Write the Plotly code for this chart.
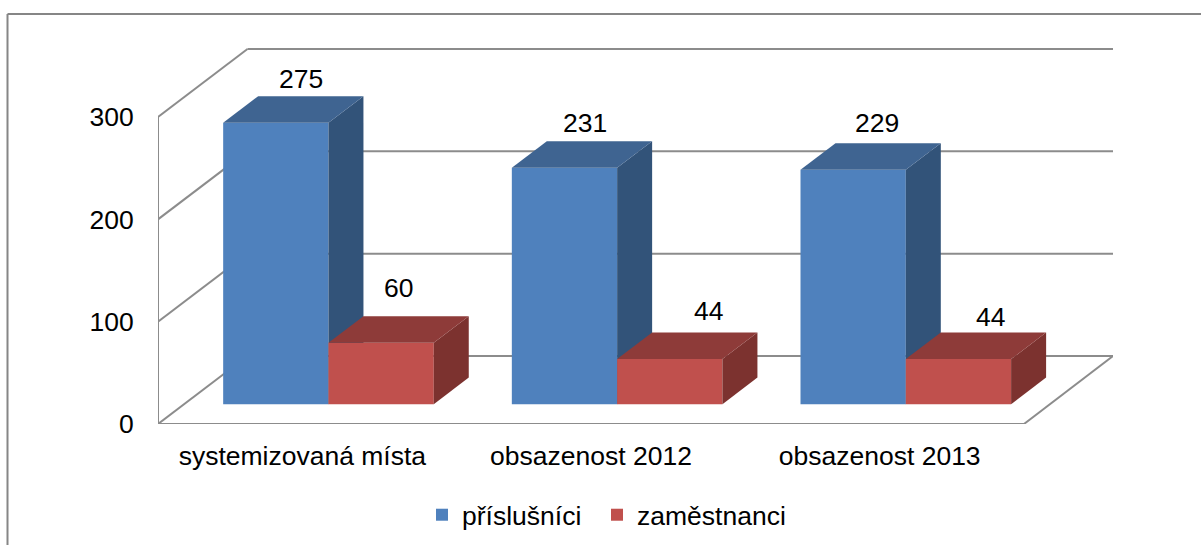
import plotly.graph_objects as go

categories = ["systemizovaná místa", "obsazenost 2012", "obsazenost 2013"]
prislusnici = [275, 231, 229]
zamestnanci = [60, 44, 44]
y_ticks = [0, 100, 200, 300]

BLUE, BLUE_TOP, BLUE_SIDE = "#4F81BD", "#3F6491", "#325379"
RED, RED_TOP, RED_SIDE = "#C0504D", "#8E3B39", "#7C322F"
GREY = "#8C8C8C"
FONT = "Liberation Sans, Arial, sans-serif"
FS = 26.5

# pixel geometry of the plot box
L, R, T, B = 158, 1113, 48, 424
W, H = 1201, 545
SLOT = 866 / 3            # px per category
PXY = 102.33 / 100        # px per value unit
XMIN = -0.5
XMAX = XMIN + (R - L) / SLOT
YMAX = (B - T) / PXY

# oblique projection: floor depth in axis units
DX, DY = 89.5 / SLOT, 68 / PXY
F0, F1 = 0.292, 0.683     # front and back of the bars, as fractions of the depth
BW = 105.3 / SLOT


def px(x, y, f):
    return x + f * DX, y + f * DY


def top_face(x0, x1, v):
    pts = [px(x0, v, F0), px(x1, v, F0), px(x1, v, F1), px(x0, v, F1), px(x0, v, F0)]
    return [p[0] for p in pts], [p[1] for p in pts]


def side_face(x1, v):
    pts = [px(x1, 0, F0), px(x1, v, F0), px(x1, v, F1), px(x1, 0, F1), px(x1, 0, F0)]
    return [p[0] for p in pts], [p[1] for p in pts]


fig = go.Figure()


def add_series(name, values, x_lefts, col, col_top, col_side, xa, ya, legend):
    fig.add_trace(go.Bar(
        x=[x + F0 * DX for x in x_lefts], y=values, base=[F0 * DY] * len(values),
        width=BW, offset=0, marker=dict(color=col, line=dict(width=0)),
        name=name, xaxis=xa, yaxis=ya, hoverinfo="skip", legend=legend,
    ))
    for x0, v in zip(x_lefts, values):
        xs, ys = side_face(x0 + BW, v)
        fig.add_trace(go.Scatter(x=xs, y=ys, mode="lines", fill="toself", fillcolor=col_side,
                                 line=dict(width=0), showlegend=False, xaxis=xa, yaxis=ya, hoverinfo="skip"))
        xs, ys = top_face(x0, x0 + BW, v)
        fig.add_trace(go.Scatter(x=xs, y=ys, mode="lines", fill="toself", fillcolor=col_top,
                                 line=dict(width=0), showlegend=False, xaxis=xa, yaxis=ya, hoverinfo="skip"))


xs_pos = list(range(len(categories)))
add_series("příslušníci", prislusnici, [i - BW for i in xs_pos], BLUE, BLUE_TOP, BLUE_SIDE, "x", "y", "legend")
add_series("zaměstnanci", zamestnanci, xs_pos, RED, RED_TOP, RED_SIDE, "x2", "y2", "legend2")

# walls and floor, behind everything
shapes = []
x_right_front = XMIN + len(categories)


def seg(x0, y0, x1, y1):
    return dict(type="line", xref="x", yref="y", x0=x0, y0=y0, x1=x1, y1=y1,
                line=dict(color=GREY, width=2), layer="below")


for t in y_ticks:
    shapes.append(seg(XMIN, t, XMIN + DX, t + DY))
    shapes.append(seg(XMIN + DX, t + DY, XMAX, t + DY))
shapes.append(seg(XMIN, 0, XMIN, y_ticks[-1]))
shapes.append(seg(XMIN, 0, x_right_front, 0))
shapes.append(seg(x_right_front, 0, XMAX, DY))
# outer chart frame (open at right and bottom, as in the source image)
shapes.append(dict(type="line", xref="paper", yref="paper",
                   x0=(7.5 - L) / (R - L), x1=(W + 20 - L) / (R - L),
                   y0=(B - 14) / (B - T), y1=(B - 14) / (B - T),
                   line=dict(color="#868686", width=2), layer="below"))
shapes.append(dict(type="line", xref="paper", yref="paper",
                   x0=(7.5 - L) / (R - L), x1=(7.5 - L) / (R - L),
                   y0=(B - 14) / (B - T), y1=(B - W) / (B - T),
                   line=dict(color="#868686", width=2), layer="below"))

# hand-placed data labels of the original, offset from the bar's top front centre
label_dx = [[25, 21, 24], [17, 39, 32]]
label_dy = [[-44, -45, -47], [-55, -48, -42]]
anns = []
for s, (values, lefts) in enumerate(((prislusnici, [i - BW for i in xs_pos]), (zamestnanci, xs_pos))):
    for k, (v, x0) in enumerate(zip(values, lefts)):
        anns.append(dict(x=x0 + BW / 2 + F0 * DX, y=v + F0 * DY, xref="x", yref="y", text=str(v),
                         showarrow=False, xanchor="center", yanchor="middle",
                         xshift=label_dx[s][k], yshift=-label_dy[s][k],
                         font=dict(family=FONT, size=FS, color="#000000")))


def legend_at(px_left, px_mid):
    return dict(xref="container", yref="container", x=px_left / W, y=1 - px_mid / H,
                xanchor="left", yanchor="middle", font=dict(family=FONT, size=FS),
                bgcolor="rgba(0,0,0,0)")


ax_common = dict(range=[XMIN, XMAX], showgrid=False, zeroline=False, showline=False)
fig.update_layout(
    width=W, height=H, autosize=False,
    margin=dict(l=L, r=W - R, t=T, b=H - B, pad=0, autoexpand=False),
    paper_bgcolor="#FFFFFF", plot_bgcolor="rgba(0,0,0,0)",
    font=dict(family=FONT, size=FS, color="#000000"),
    shapes=shapes, annotations=anns, barmode="overlay",
    xaxis=dict(**ax_common, tickmode="array", tickvals=xs_pos, ticktext=categories,
               tickfont=dict(family=FONT, size=FS), ticks="outside", ticklen=8, tickcolor="rgba(0,0,0,0)"),
    yaxis=dict(range=[0, YMAX], showgrid=False, zeroline=False, showline=False,
               tickmode="array", tickvals=y_ticks, ticktext=[str(t) for t in y_ticks],
               tickfont=dict(family=FONT, size=FS), ticks="outside", ticklen=18, tickcolor="rgba(0,0,0,0)"),
    xaxis2=dict(**ax_common, overlaying="x", matches="x", showticklabels=False, anchor="y2"),
    yaxis2=dict(range=[0, YMAX], overlaying="y", matches="y", showgrid=False, zeroline=False,
                showticklabels=False, anchor="x2"),
    legend=legend_at(422, 515),
    legend2=legend_at(597, 515),
    showlegend=True,
    hovermode=False,
)
fig.write_html("out.html", config=dict(displayModeBar=False),
               post_script="document.body.style.margin='0';")
